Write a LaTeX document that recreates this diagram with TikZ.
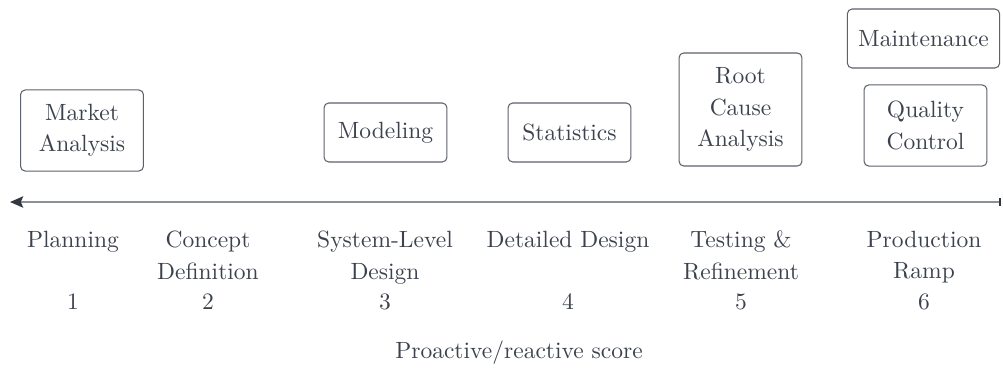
\documentclass[tikz,border=0pt]{standalone}
\usepackage{fontspec}
\usetikzlibrary{arrows.meta}

\definecolor{inkdark}{RGB}{60,66,77}
\definecolor{boxedge}{RGB}{92,98,107}
\definecolor{axisgray}{RGB}{140,145,150}
\definecolor{tipdark}{RGB}{50,56,66}

\tikzset{
  every node/.style={text=inkdark, font=\fontsize{10}{13.4}\selectfont},
  toolbox/.style={draw=boxedge, line width=0.45pt, rounded corners=2pt,
    align=center, inner xsep=4.6pt, inner ysep=2pt, minimum width=52.3pt},
  oneline/.style={toolbox, minimum height=25.1pt},
  twoline/.style={toolbox, minimum height=34.5pt},
  threeline/.style={toolbox, minimum height=48.1pt},
  phase/.style={align=center, anchor=north, inner sep=0pt},
  phasenum/.style={anchor=base, inner sep=0pt},
  axisline/.style={draw=axisgray, line width=0.85pt,
    {Stealth[length=5.6pt,width=4.8pt,inset=1pt,color=tipdark]}-{Bar[width=3.2pt,line width=0.9pt,color=tipdark]}}
}

\begin{document}
\begin{tikzpicture}[x=0.4255pt,y=-0.4255pt]
  \useasboundingbox (0,0) rectangle (1003,375);

  % timeline axis: arrow head on the left, end bar on the right
  \coordinate (axisL) at (10,202);
  \coordinate (axisR) at (1001,202);
  \draw[axisline] (axisL) -- (axisR);

  % tools above the axis
  \node[twoline]   (market)  at (82,130.5)   {Market\\Analysis};
  \node[oneline]   (model)   at (385.5,132.5) {Modeling};
  \node[oneline]   (stats)   at (569.5,132.5) {Statistics};
  \node[threeline] (rca)     at (740.5,109.5) {Root\\Cause\\Analysis};
  \node[oneline]   (maint)   at (923.5,38.5)  {Maintenance};
  \node[twoline]   (quality) at (925.5,125.5) {Quality\\Control};

  % development phases below the axis
  \node[phase] (p1) at (73,230.5)  {Planning};
  \node[phase] (p2) at (208,230.5) {Concept\\Definition};
  \node[phase] (p3) at (385,230.5) {System-Level\\Design};
  \node[phase] (p4) at (568,230.5) {Detailed Design};
  \node[phase] (p5) at (741,230.5) {Testing \&\\Refinement};
  \node[phase] (p6) at (924,230.5) {Production\\Ramp};

  \node[phasenum] (n1) at (73,309)  {1};
  \node[phasenum] (n2) at (208,309) {2};
  \node[phasenum] (n3) at (385,309) {3};
  \node[phasenum] (n4) at (568,309) {4};
  \node[phasenum] (n5) at (741,309) {5};
  \node[phasenum] (n6) at (924,309) {6};

  % axis caption
  \node[anchor=base, inner sep=0pt] (caption) at (519,358) {Proactive/reactive score};
\end{tikzpicture}
\end{document}
